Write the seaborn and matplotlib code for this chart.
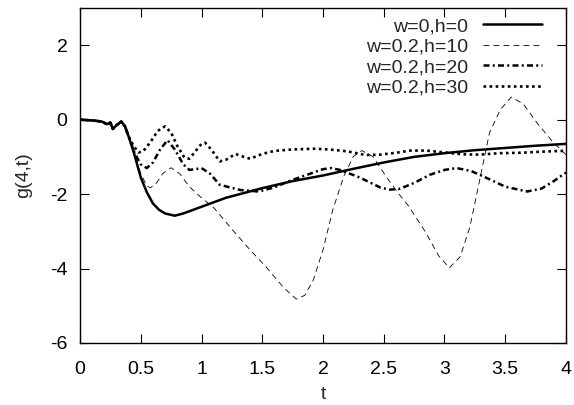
import numpy as np
import pandas as pd
import matplotlib
matplotlib.use("Agg")
import matplotlib.pyplot as plt
import seaborn as sns

# values
t_early = [0, 0.1, 0.18, 0.22, 0.25, 0.27, 0.3, 0.34, 0.37, 0.4]
g_early = [0, -0.02, -0.05, -0.12, -0.08, -0.25, -0.15, -0.05, -0.18, -0.45]

t_h0 = [0.44, 0.5, 0.55, 0.6, 0.65, 0.7, 0.78, 0.85, 0.95, 1.05, 1.2, 1.35,
        1.5, 1.75, 2.0, 2.25, 2.5, 2.75, 3.0, 3.25, 3.5, 3.75, 4.0]
g_h0 = [-0.85, -1.55, -1.95, -2.25, -2.42, -2.52, -2.58, -2.52, -2.4, -2.28,
        -2.1, -1.97, -1.84, -1.65, -1.5, -1.32, -1.15, -1.0, -0.9, -0.82,
        -0.76, -0.7, -0.65]

t_h10 = [0.45, 0.5, 0.55, 0.58, 0.63, 0.68, 0.75, 0.82, 0.9, 1.0, 1.1, 1.26,
         1.4, 1.53, 1.67, 1.78, 1.85, 1.92, 2.0, 2.08, 2.17, 2.25, 2.32, 2.41,
         2.52, 2.63, 2.7, 2.85, 2.95, 3.04, 3.13, 3.21, 3.29, 3.37, 3.46,
         3.55, 3.65, 3.76, 3.9, 4.0]
g_h10 = [-0.95, -1.45, -1.78, -1.83, -1.7, -1.45, -1.29, -1.45, -1.8, -2.1,
         -2.36, -2.98, -3.5, -3.95, -4.49, -4.82, -4.72, -4.31, -3.5, -2.43,
         -1.53, -0.99, -0.83, -0.99, -1.53, -2.02, -2.3, -3.05, -3.65, -3.98,
         -3.68, -2.87, -1.62, -0.36, 0.27, 0.61, 0.42, -0.08, -0.63, -0.94]

t_h20 = [0.45, 0.5, 0.55, 0.6, 0.66, 0.72, 0.78, 0.85, 0.9, 0.95, 1.0, 1.07,
         1.15, 1.32, 1.47, 1.6, 1.73, 1.87, 2.0, 2.07, 2.14, 2.3, 2.47, 2.55,
         2.63, 2.75, 2.88, 3.0, 3.1, 3.22, 3.35, 3.5, 3.68, 3.8, 3.9, 4.0]
g_h20 = [-0.9, -1.2, -1.3, -1.15, -0.8, -0.55, -0.8, -1.2, -1.35, -1.33,
         -1.3, -1.45, -1.75, -1.89, -1.93, -1.82, -1.64, -1.48, -1.33, -1.3,
         -1.35, -1.55, -1.82, -1.88, -1.86, -1.7, -1.48, -1.35, -1.3, -1.38,
         -1.57, -1.8, -1.93, -1.85, -1.65, -1.42]

t_h30 = [0.44, 0.48, 0.52, 0.58, 0.64, 0.7, 0.75, 0.8, 0.86, 0.9, 0.95, 1.0,
         1.03, 1.08, 1.15, 1.2, 1.28, 1.33, 1.4, 1.5, 1.6, 1.75, 1.92, 2.05,
         2.2, 2.35, 2.47, 2.6, 2.72, 2.85, 3.0, 3.15, 3.29, 3.45, 3.62, 3.8,
         3.95, 4.0]
g_h30 = [-0.7, -0.88, -0.85, -0.6, -0.3, -0.18, -0.35, -0.7, -1.02, -1.05,
         -0.85, -0.65, -0.62, -0.8, -1.12, -1.08, -0.92, -0.98, -1.05, -0.92,
         -0.84, -0.8, -0.78, -0.8, -0.85, -0.95, -0.94, -0.89, -0.83, -0.83,
         -0.88, -0.93, -0.94, -0.9, -0.89, -0.86, -0.84, -0.84]

labels = ["w=0,h=0", "w=0.2,h=10", "w=0.2,h=20", "w=0.2,h=30"]
x_ticks = [0, 0.5, 1, 1.5, 2, 2.5, 3, 3.5, 4]
x_tick_labels = ["0", "0.5", "1", "1.5", "2", "2.5", "3", "3.5", "4"]
y_ticks = [-6, -4, -2, 0, 2]

sns.set_style("ticks")
plt.rcParams['font.family'] = ['Liberation Sans', 'DejaVu Sans']
plt.rcParams['font.size'] = 14
plt.rcParams['axes.unicode_minus'] = False

fig = plt.figure(figsize=(5.74, 4.05), dpi=100)
ax = fig.add_axes([0.1394, 0.1531, 0.8466, 0.8271])

series = [(t_h0, g_h0), (t_h10, g_h10), (t_h20, g_h20), (t_h30, g_h30)]
styles = [
    dict(linestyle='-', lw=1.8),
    dict(linestyle=(0, (7, 5)), lw=0.6),
    dict(linestyle=(0, (2.4, 1.3, 0.8, 1.3)), lw=1.8),
    dict(linestyle=(0, (1, 1.3)), lw=1.9),
]

for (tt, gg), lab, st in zip(series, labels, styles):
    df = pd.DataFrame({"t": t_early + tt, "g": g_early + gg})
    sns.lineplot(data=df, x="t", y="g", ax=ax, color="black", label=lab,
                 estimator=None, **st)

ax.set_xlim(0, 4)
ax.set_ylim(-6, 3)
ax.set_xticks(x_ticks)
ax.set_xticklabels(x_tick_labels)
ax.set_yticks(y_ticks)
ax.tick_params(direction='in', length=6.5, width=0.8, top=True, right=True,
               labelsize=14, colors='black')
ax.tick_params(axis='x', pad=13)
ax.tick_params(axis='y', pad=9)
for sp in ax.spines.values():
    sp.set_color('black')
    sp.set_linewidth(1.0)

ax.set_xlabel("t", fontsize=14, labelpad=6)
ax.set_ylabel("g(4,t)", fontsize=14, labelpad=13)

ax.legend(loc='upper right', bbox_to_anchor=(0.9506, 0.972), frameon=False,
          markerfirst=False, handlelength=3.05, handletextpad=0.77,
          labelspacing=0.15, borderpad=0, borderaxespad=0, fontsize=14)

fig.savefig("out.png", dpi=100)
